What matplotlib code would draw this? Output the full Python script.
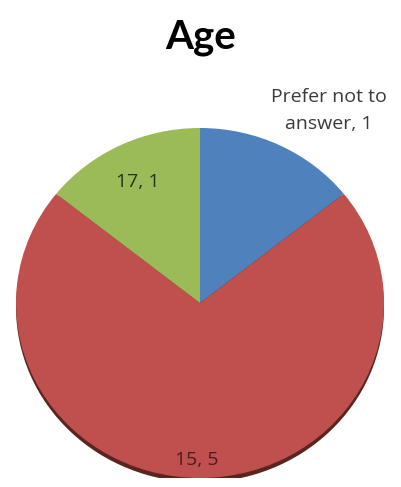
import matplotlib
matplotlib.use('Agg')
import matplotlib.pyplot as plt
from matplotlib.patches import Ellipse

categories = ['Prefer not to\nanswer', '15', '17']
counts = [1, 5, 1]
colors = ['#4F81BD', '#C0504D', '#9BBB59']
label_colors = ['#3a3a3a', '#4a1c1c', '#26321a']
# label anchor points in data units (pie radius = 1)
label_xy = [(0.70, 1.10), (-0.015, -0.895), (-0.34, 0.69)]

W, H = 402, 487
fig = plt.figure(figsize=(W / 100, H / 100), dpi=100)
fig.patch.set_facecolor('white')

# pie is drawn slightly wider than tall, like a tilted disc
left, right, top, bottom = 16, 384, 128, 478
ax = fig.add_axes([left / W, (H - bottom) / H, (right - left) / W, (bottom - top) / H])

# thin dark rim under the disc
ax.add_patch(Ellipse((0.0, -0.025), 2.0, 2.0, facecolor='#5a2420', edgecolor='none', zorder=0))

wedges, _ = ax.pie(counts, colors=colors, startangle=90, counterclock=False,
                   radius=1.0, wedgeprops=dict(linewidth=0))
for w in wedges:
    w.set_zorder(1)

for cat, n, (x, y), c in zip(categories, counts, label_xy, label_colors):
    ax.text(x, y, f'{cat}, {n}', ha='center', va='center', fontsize=14,
            family='Open Sans', color=c, linespacing=1.6, clip_on=False, zorder=3)

ax.set_aspect('auto')
ax.set_xlim(-1, 1)
ax.set_ylim(-1, 1)
ax.axis('off')

fig.text(0.5, 1 - 37 / H, 'Age', ha='center', va='center', fontsize=29,
         fontweight='bold', family='Lato', color='black')

fig.savefig('out.png', dpi=100)
